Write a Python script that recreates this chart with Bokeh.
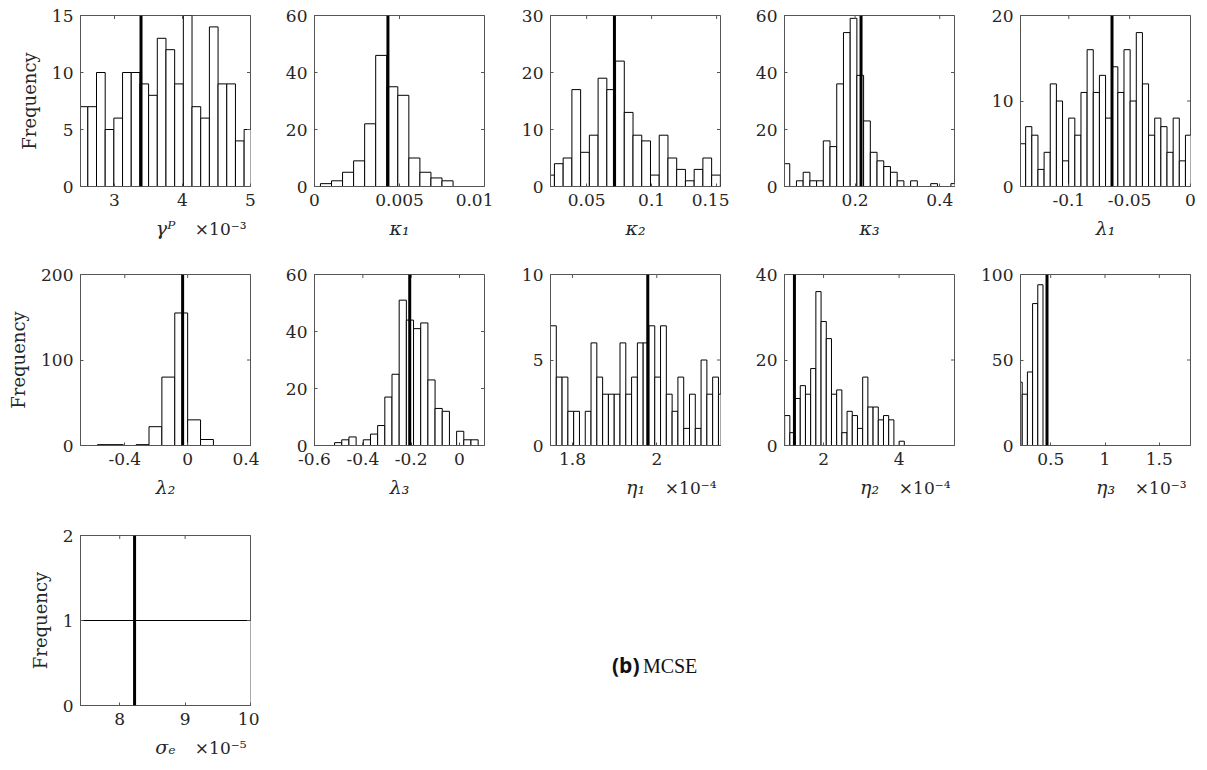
import math
from bokeh.plotting import figure
from bokeh.models import Span, Title, FixedTicker, Div, Range1d, CustomJSTickFormatter
from bokeh.layouts import row, column
from bokeh.embed import file_html
from bokeh.resources import INLINE

FONT = "DejaVu Serif"
TXT = "#262626"
AX = "#555555"

# ---------------- data (x in displayed units, exponent shown separately) ----------------
# gamma^P  (x1e-3)
gammaP_start, gammaP_width = 2.480, 0.1277
gammaP_counts = [7, 7, 10, 5, 6, 10, 10, 9, 8, 13, 12, 9, 15, 7, 6, 14, 9, 9, 4, 5]
gammaP_mean = 3.39

# kappa_1
kappa1_start, kappa1_width = -0.0003, 0.00065
kappa1_counts = [0, 1, 2, 5, 9, 22, 46, 35, 32, 10, 5, 3, 2, 0, 0]
kappa1_mean = 0.00432

# kappa_2
kappa2_start, kappa2_width = 0.0185, 0.00672
kappa2_counts = [2, 4, 5, 17, 6, 9, 19, 17, 22, 13, 9, 8, 2, 9, 5, 3, 1, 3, 5, 2]
kappa2_mean = 0.0714

# kappa_3
kappa3_start, kappa3_width = 0.0295, 0.01588
kappa3_counts = [8, 0, 2, 5, 2, 2, 16, 14, 36, 54, 59, 39, 23, 12, 9, 7, 5, 2, 0, 2, 0, 0, 1, 0, 0, 1]
kappa3_mean = 0.214

# lambda_1
lambda1_start, lambda1_width = -0.1405, 0.00505
lambda1_counts = [5, 7, 6, 2, 4, 12, 10, 3, 8, 6, 11, 16, 11, 13, 8, 14, 11, 16, 10, 18, 12, 6, 8, 7, 4, 8, 3, 6]
lambda1_mean = -0.0645

# lambda_2
lambda2_start, lambda2_width = -0.574, 0.082
lambda2_counts = [1, 1, 0, 1, 22, 80, 155, 30, 7, 0, 0, 0]
lambda2_mean = -0.032

# lambda_3
lambda3_start, lambda3_width = -0.606, 0.0297
lambda3_counts = [0, 0, 0, 1, 2, 3, 0, 2, 4, 7, 17, 25, 51, 44, 41, 43, 23, 13, 12, 0, 5, 2, 2]
lambda3_mean = -0.206

# eta_1  (x1e-4)
eta1_start, eta1_width = 1.748, 0.01373
eta1_counts = [7, 4, 4, 2, 2, 0, 2, 6, 4, 3, 3, 3, 6, 3, 4, 6, 6, 7, 4, 7, 3, 2, 4, 1, 3, 1, 5, 3, 4, 3]
eta1_mean = 1.9786

# eta_2  (x1e-4)
eta2_start, eta2_width = 0.97, 0.1377
eta2_counts = [7, 3, 11, 14, 12, 18, 36, 29, 25, 12, 13, 3, 8, 7, 4, 16, 9, 9, 6, 7, 6, 0, 1]
eta2_mean = 1.229

# eta_3  (x1e-3)
eta3_start, eta3_width = 0.19, 0.0478
eta3_counts = [37, 30, 43, 83, 94]
eta3_mean = 0.466

# sigma_e  (x1e-5)
sigma_start, sigma_width = 7.3, 2.8
sigma_counts = [1]
sigma_mean = 8.227

panels = [
    dict(label="γᴾ", exp="×10⁻³", start=gammaP_start, width=gammaP_width, counts=gammaP_counts, mean=gammaP_mean,
         xr=(2.5, 5.0), xt=[3, 4, 5], yr=(0, 15), yt=[0, 5, 10, 15]),
    dict(label="κ₁", exp=None, start=kappa1_start, width=kappa1_width, counts=kappa1_counts, mean=kappa1_mean,
         xr=(0, 0.01), xt=[0, 0.005, 0.01], yr=(0, 60), yt=[0, 20, 40, 60]),
    dict(label="κ₂", exp=None, start=kappa2_start, width=kappa2_width, counts=kappa2_counts, mean=kappa2_mean,
         xr=(0.0222, 0.153), xt=[0.05, 0.1, 0.15], yr=(0, 30), yt=[0, 10, 20, 30]),
    dict(label="κ₃", exp=None, start=kappa3_start, width=kappa3_width, counts=kappa3_counts, mean=kappa3_mean,
         xr=(0.033, 0.435), xt=[0.2, 0.4], yr=(0, 60), yt=[0, 20, 40, 60]),
    dict(label="λ₁", exp=None, start=lambda1_start, width=lambda1_width, counts=lambda1_counts, mean=lambda1_mean,
         xr=(-0.1397, 0.0), xt=[-0.1, -0.05, 0], yr=(0, 20), yt=[0, 10, 20]),
    dict(label="λ₂", exp=None, start=lambda2_start, width=lambda2_width, counts=lambda2_counts, mean=lambda2_mean,
         xr=(-0.682, 0.4), xt=[-0.4, 0, 0.4], yr=(0, 200), yt=[0, 100, 200]),
    dict(label="λ₃", exp=None, start=lambda3_start, width=lambda3_width, counts=lambda3_counts, mean=lambda3_mean,
         xr=(-0.6, 0.1034), xt=[-0.6, -0.4, -0.2, 0], yr=(0, 60), yt=[0, 20, 40, 60]),
    dict(label="η₁", exp="×10⁻⁴", start=eta1_start, width=eta1_width, counts=eta1_counts, mean=eta1_mean,
         xr=(1.748, 2.151), xt=[1.8, 2], yr=(0, 10), yt=[0, 5, 10]),
    dict(label="η₂", exp="×10⁻⁴", start=eta2_start, width=eta2_width, counts=eta2_counts, mean=eta2_mean,
         xr=(0.966, 5.466), xt=[2, 4], yr=(0, 40), yt=[0, 20, 40]),
    dict(label="η₃", exp="×10⁻³", start=eta3_start, width=eta3_width, counts=eta3_counts, mean=eta3_mean,
         xr=(0.222, 1.787), xt=[0.5, 1, 1.5], yr=(0, 100), yt=[0, 50, 100]),
    dict(label="σₑ", exp="×10⁻⁵", start=sigma_start, width=sigma_width, counts=sigma_counts, mean=sigma_mean,
         xr=(7.4, 10.0), xt=[8, 9, 10], yr=(0, 2), yt=[0, 1, 2]),
]

LEFT_BORDERS = [80, 55, 57, 55, 57]
ROW_BORDERS = [(15, 171, 74), (14, 171, 75), (15, 170, 58)]  # top, frame height, bottom
fmt = CustomJSTickFormatter(code="return tick.toString();")


def make_panel(spec, col, rw):
    top_b, fh, bot_b = ROW_BORDERS[rw]
    left = [spec["start"] + spec["width"] * i for i in range(len(spec["counts"]))]
    right = [l + spec["width"] for l in left]
    p = figure(frame_width=170, frame_height=fh,
               min_border_left=LEFT_BORDERS[col], min_border_right=9,
               min_border_top=top_b, min_border_bottom=bot_b,
               x_range=Range1d(*spec["xr"]), y_range=Range1d(*spec["yr"]),
               output_backend="svg", toolbar_location=None,
               background_fill_color="white", border_fill_color="white")
    p.quad(left=left, right=right, top=spec["counts"], bottom=0,
           fill_color="white", line_color="black", line_width=1)
    # inward tick marks on top and right edges (half of each dash is clipped by the frame)
    p.scatter(x=spec["xt"], y=[spec["yr"][1]] * len(spec["xt"]), marker="dash", size=7,
              angle=math.pi / 2, line_color=AX, line_width=1)
    p.scatter(x=[spec["xr"][1]] * len(spec["yt"]), y=spec["yt"], marker="dash", size=7,
              line_color=AX, line_width=1)
    p.add_layout(Span(location=spec["mean"], dimension="height", line_color="black", line_width=3))
    p.xgrid.grid_line_color = None
    p.ygrid.grid_line_color = None
    p.outline_line_color = AX

    for ax, ticks in ((p.xaxis[0], spec["xt"]), (p.yaxis[0], spec["yt"])):
        ax.ticker = FixedTicker(ticks=ticks)
        ax.formatter = fmt
        ax.major_tick_in = 3
        ax.major_tick_out = 0
        ax.minor_tick_line_color = None
        ax.axis_line_color = AX
        ax.major_tick_line_color = AX
        ax.major_label_text_font = FONT
        ax.major_label_text_font_size = "17px"
        ax.major_label_text_color = TXT
        ax.major_label_standoff = 7
        ax.axis_label_text_font = FONT
        ax.axis_label_text_font_size = "19px"
        ax.axis_label_text_color = TXT
        ax.axis_label_text_font_style = "italic"
    p.xaxis[0].axis_label = spec["label"]
    p.xaxis[0].axis_label_standoff = 8
    if col == 0:
        p.yaxis[0].axis_label = "Frequency"
        p.yaxis[0].axis_label_text_font_style = "normal"
        p.yaxis[0].axis_label_text_font_size = "18px"
        p.yaxis[0].axis_label_standoff = 9

    if spec["exp"]:
        # exponent note, pulled up onto the axis-label line
        p.add_layout(Title(text=spec["exp"], align="right", vertical_align="top", standoff=-46, offset=4,
                           text_font=FONT, text_font_size="17px", text_font_style="normal",
                           text_color=TXT), "below")
    return p


figs = [make_panel(s, i % 5, i // 5) for i, s in enumerate(panels)]

caption = Div(text='<span style="font-family:\'Open Sans\';font-weight:bold;font-size:21px;">(b)</span>'
                   '&nbsp;<span style="font-family:\'Liberation Serif\';font-size:20px;">MCSE</span>',
              styles={"color": "#111111", "white-space": "nowrap", "line-height": "24px"},
              width=170, height=30, margin=(133, 0, 0, 353))

layout = column(row(*figs[0:5]), row(*figs[5:10]), row(figs[10], caption))

open("out.html", "w").write(file_html(layout, INLINE))
